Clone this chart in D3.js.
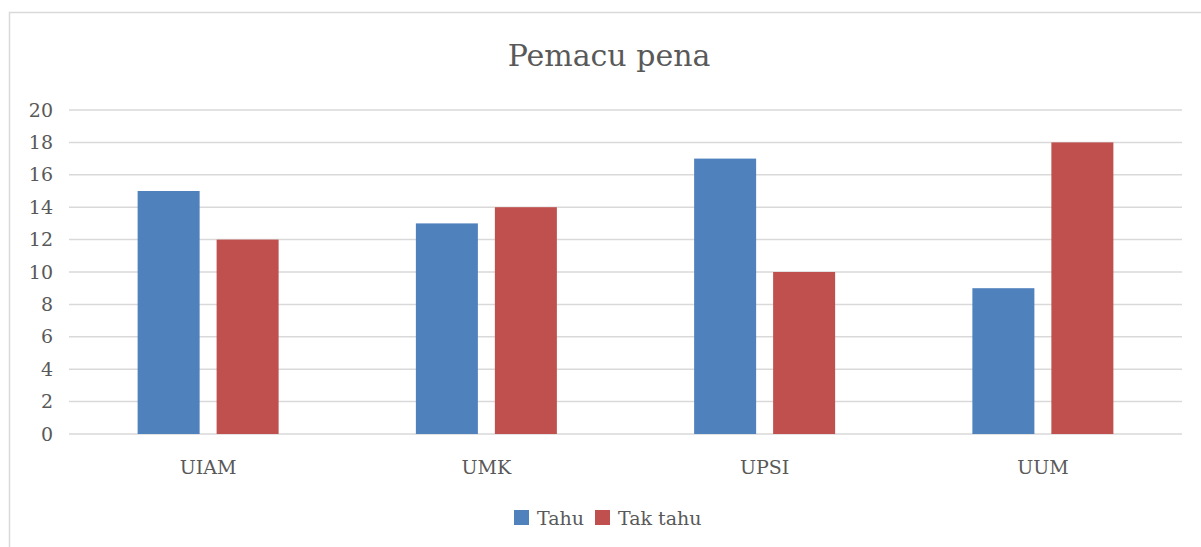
<!DOCTYPE html>
<html>
<head>
<meta charset="utf-8">
<script src="https://cdn.jsdelivr.net/npm/d3@7"></script>
<style>
body { margin: 0; background: #fff; }
text { font-family: "DejaVu Serif", "Liberation Serif", serif; fill: #595959; }
</style>
</head>
<body>
<div id="chart"></div>
<script>
// data
const categories = ["UIAM", "UMK", "UPSI", "UUM"];
const seriesNames = ["Tahu", "Tak tahu"];
const tahu = [15, 13, 17, 9];
const takTahu = [12, 14, 10, 18];
const yTicks = [0, 2, 4, 6, 8, 10, 12, 14, 16, 18, 20];
const colors = ["#4f81bd", "#c0504d"];

const width = 1201, height = 547;
const margin = {top: 110, right: 19, bottom: 113, left: 69};

let svg = d3.select("#chart")
	.append("svg")
	.attr("width", width)
	.attr("height", height);

// outer frame (only left + top visible in picture)
svg.append("rect")
	.attr("x", 9.5).attr("y", 12.5)
	.attr("width", 1250).attr("height", 600)
	.attr("fill", "none")
	.attr("stroke", "#d9d9d9")
	.attr("stroke-width", 1.5);

let g = svg.append("g")
	.attr("transform", `translate(${margin.left}, ${margin.top})`);

let innerW = width - margin.left - margin.right;
let innerH = height - margin.top - margin.bottom;

let x = d3.scaleBand()
	.domain(categories)
	.range([0, innerW]);

let y = d3.scaleLinear()
	.domain([0, 20])
	.range([innerH, 0]);

// gridlines
g.selectAll(".grid")
	.data(yTicks)
	.enter()
	.append("line")
	.attr("x1", 0)
	.attr("x2", innerW)
	.attr("y1", d => y(d))
	.attr("y2", d => y(d))
	.attr("stroke", "#d9d9d9")
	.attr("stroke-width", 1.5);

// y labels
g.selectAll(".ylab")
	.data(yTicks)
	.enter()
	.append("text")
	.attr("x", -16)
	.attr("y", d => y(d))
	.attr("dy", "0.35em")
	.style("text-anchor", "end")
	.style("font-size", "19px")
	.text(d => d);

// x labels
g.selectAll(".xlab")
	.data(categories)
	.enter()
	.append("text")
	.attr("x", d => x(d) + x.bandwidth() / 2)
	.attr("y", innerH + 40)
	.style("text-anchor", "middle")
	.style("font-size", "19px")
	.text(d => d);

let x1 = d3.scaleBand()
	.domain(seriesNames)
	.range([x.bandwidth() / 2 - 70.5, x.bandwidth() / 2 + 70.5])
	.paddingInner(0.215);

let rows = categories.map((c, i) => ({cat: c, values: [tahu[i], takTahu[i]]}));

let groups = g.selectAll(".grp")
	.data(rows)
	.enter()
	.append("g")
	.attr("transform", d => `translate(${x(d.cat)}, 0)`);

groups.selectAll("rect")
	.data(d => d.values.map((v, j) => ({name: seriesNames[j], value: v, j: j})))
	.enter()
	.append("rect")
	.attr("x", d => x1(d.name))
	.attr("width", x1.bandwidth())
	.attr("y", d => y(d.value))
	.attr("height", d => innerH - y(d.value))
	.attr("fill", d => colors[d.j]);

// title
svg.append("text")
	.attr("x", 609)
	.attr("y", 66)
	.style("text-anchor", "middle")
	.style("font-size", "30px")
	.text("Pemacu pena");

// legend
let legend = svg.append("g");
let legendItems = [
	{name: "Tahu", x: 514},
	{name: "Tak tahu", x: 595}
];
legendItems.forEach((d, i) => {
	legend.append("rect")
		.attr("x", d.x).attr("y", 510)
		.attr("width", 15).attr("height", 15)
		.attr("fill", colors[i]);
	legend.append("text")
		.attr("x", d.x + 23)
		.attr("y", 525)
		.style("font-size", "19px")
		.text(d.name);
});
</script>
</body>
</html>
